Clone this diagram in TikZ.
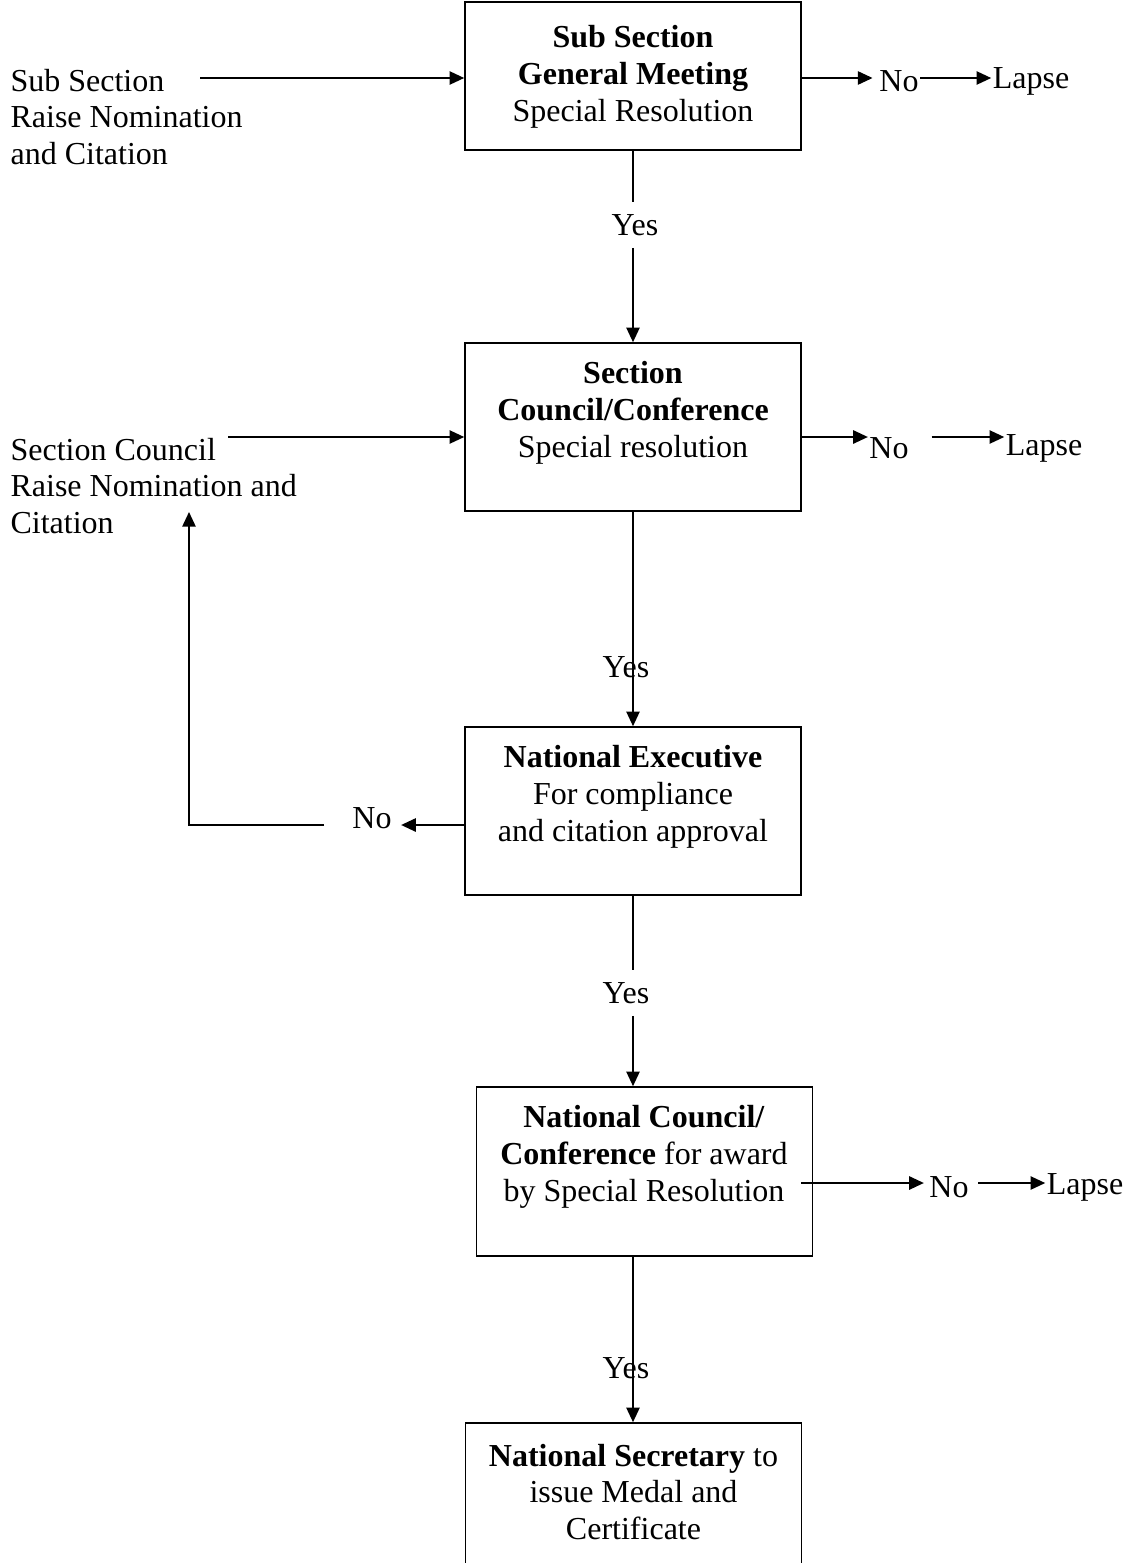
\documentclass[tikz,border=0pt]{standalone}
\usepackage{fontspec}
\setmainfont{Liberation Serif}
\usetikzlibrary{arrows.meta}

\begin{document}
\begin{tikzpicture}[x=0.75pt, y=-0.75pt,
  every node/.style={font=\fontsize{24}{27.6}\selectfont},
  stage/.style={draw, line width=1.2pt, minimum width=252pt, inner sep=0pt},
  tag/.style={inner sep=1pt, align=center},
  flow/.style={line width=1.2pt, -{Triangle[length=11pt,width=10pt]}},
  wire/.style={line width=1.2pt}]
  \useasboundingbox (0,0) rectangle (1132,1563);
  \clip (0,0) rectangle (1132,1563);

  % the five stages
  \node[stage, minimum height=111pt] (ssgm) at (633,76) {};
  \node[stage, minimum height=126pt] (sccc) at (633,427) {};
  \node[stage, minimum height=126pt] (nexe) at (633,811) {};
  \node[stage, minimum height=126.75pt] (ncc) at (644.5,1171.5) {};
  \node[stage, minimum height=150pt] (nsec) at (633.5,1523) {};

  \node[tag] (ssgm-t) at (633,77) {\textbf{Sub Section}\\\textbf{General Meeting}\\Special Resolution};
  \node[tag] (sccc-t) at (633,412.5) {\textbf{Section}\\\textbf{Council/Conference}\\Special resolution};
  \node[tag] (nexe-t) at (633,796.5) {\textbf{National Executive}\\For compliance\\and citation approval};
  \node[tag] (ncc-t) at (644,1157) {\textbf{National Council/}\\\textbf{Conference} for award\\by Special Resolution};
  \node[tag] (nsec-t) at (633.5,1492) {\textbf{National Secretary} to\\issue Medal and\\Certificate};

  % sub section
  \node[tag, anchor=west, align=left] (ssin) at (9,117) {Sub Section\\Raise Nomination\\and Citation};
  \coordinate (row1) at (200,78);
  \draw[flow] (row1) -- (row1 -| ssgm.west);
  \node[tag] (no1) at (899,81) {No};
  \node[tag] (lapse1) at (1031,81) {Lapse};
  \draw[flow] (ssgm.east |- row1) -- ([xshift=-4pt]row1 -| no1.west);
  \draw[flow] (row1 -| no1.east) -- (row1 -| lapse1.west);

  \node[tag, inner ysep=9pt] (yes1) at (635,225) {Yes};
  \draw[wire] (ssgm.south) -- (ssgm.south |- yes1.north);
  \draw[flow] (sccc.north |- yes1.south) -- (sccc.north);

  % section
  \node[tag, anchor=west, align=left] (scin) at (9,486) {Section Council\\Raise Nomination and\\Citation};
  \coordinate (row2) at (228,437);
  \draw[flow] (row2) -- (row2 -| sccc.west);
  \node[tag] (no2) at (889,448) {No};
  \node[tag] (lapse2) at (1044,448) {Lapse};
  \draw[flow] (sccc.east |- row2) -- (row2 -| no2.west);
  \draw[flow] ([xshift=16pt]row2 -| no2.east) -- (row2 -| lapse2.west);

  \node[tag] (yes2) at (626,667) {Yes};
  \draw[flow] (sccc.south) -- (nexe.north);

  % national executive, back to the section
  \node[tag] (no3) at (372,818) {No};
  \coordinate (row3) at (0,825);
  \coordinate (back) at (189,512);
  \draw[flow] (nexe.west |- row3) -- ([xshift=6pt]row3 -| no3.east);
  \draw[flow] ([xshift=-20pt]row3 -| no3.west) -| (back);

  \node[tag, inner ysep=9pt] (yes3) at (626,993) {Yes};
  \draw[wire] (nexe.south) -- (nexe.south |- yes3.north);
  \draw[flow] (nexe.south |- yes3.south) -- (nexe.south |- ncc.north);

  % national council
  \coordinate (row4) at (0,1183);
  \node[tag] (no4) at (949,1187) {No};
  \node[tag] (lapse4) at (1085,1187) {Lapse};
  \draw[flow] ([xshift=-9pt]ncc.east |- row4) -- ([xshift=-3pt]row4 -| no4.west);
  \draw[flow] ([xshift=6pt]row4 -| no4.east) -- (row4 -| lapse4.west);

  \node[tag] (yes4) at (626,1368) {Yes};
  \draw[flow] (nexe.south |- ncc.south) -- (nexe.south |- nsec.north);
\end{tikzpicture}
\end{document}
